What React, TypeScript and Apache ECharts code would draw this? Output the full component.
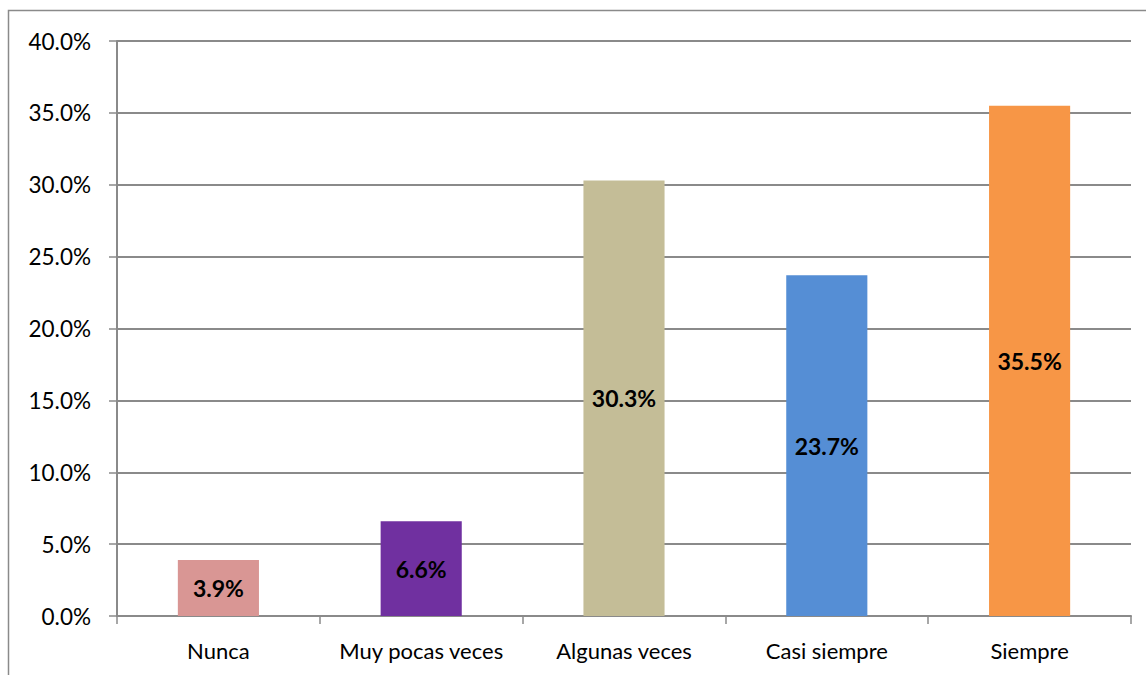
import React, { useEffect, useRef } from "react";
import * as echarts from "echarts";

const categories = ["Nunca", "Muy pocas veces", "Algunas veces", "Casi siempre", "Siempre"];
const values = [3.9, 6.6, 30.3, 23.7, 35.5];
const colors = ["#D99694", "#7030A0", "#C4BD97", "#558ED5", "#F79646"];

export default function App() {
  const ref = useRef<HTMLDivElement>(null);
  useEffect(() => {
    const chart = echarts.init(ref.current!, null, { renderer: "svg" });
    const font = "Lato, 'Open Sans', sans-serif";
    chart.setOption({
      animation: false,
      backgroundColor: "#ffffff",
      textStyle: { fontFamily: font },
      graphic: [
        {
          type: "rect",
          shape: { x: 8.5, y: 10.5, width: 1300, height: 800 },
          style: { fill: "none", stroke: "#8a8a8a", lineWidth: 1.5 },
          silent: true,
          z: -1,
        },
      ],
      grid: { left: 117, right: 15, top: 41, bottom: 59, containLabel: false },
      xAxis: {
        type: "category",
        data: categories,
        axisLine: { show: true, lineStyle: { color: "#8a8a8a", width: 2 } },
        axisTick: { show: true, length: 8, lineStyle: { color: "#8a8a8a", width: 1.5 } },
        axisLabel: { color: "#000", fontSize: 22, margin: 23, fontFamily: font, interval: 0, hideOverlap: false },
      },
      yAxis: {
        type: "value",
        min: 0,
        max: 40,
        interval: 5,
        axisLine: { show: true, lineStyle: { color: "#8a8a8a", width: 2 } },
        axisTick: { show: true, length: 8, lineStyle: { color: "#8a8a8a", width: 1.5 } },
        axisLabel: {
          color: "#000",
          fontSize: 22.5,
          margin: 26,
          fontFamily: font,
          formatter: (v: number) => v.toFixed(1) + "%",
        },
        splitLine: { show: true, lineStyle: { color: "#8a8a8a", width: 2 } },
      },
      series: [
        {
          type: "bar",
          barWidth: "40%",
          data: values.map((v, i) => ({ value: v, itemStyle: { color: colors[i] } })),
          label: {
            show: true,
            position: "inside",
            color: "#000",
            fontWeight: "bold",
            fontSize: 23,
            fontFamily: font,
            formatter: (p: any) => p.value.toFixed(1) + "%",
          },
        },
      ],
    });
    return () => chart.dispose();
  }, []);
  return (
    <div
      ref={ref}
      style={{ position: "absolute", left: 0, top: 0, width: 1146, height: 675 }}
    />
  );
}
